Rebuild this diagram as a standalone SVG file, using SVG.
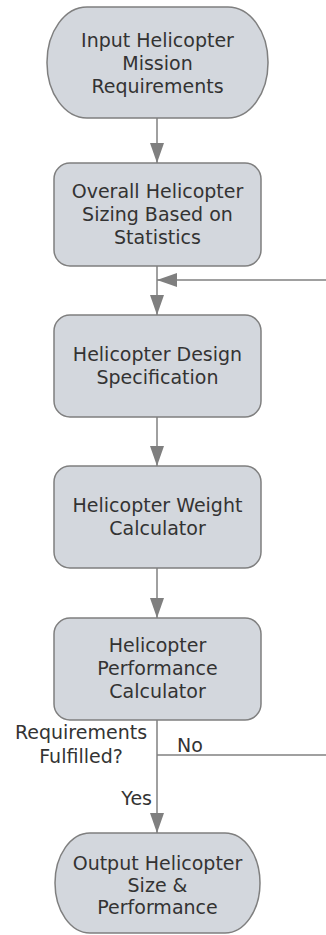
<svg xmlns="http://www.w3.org/2000/svg" width="326" height="935" viewBox="0 0 326 935">
<style>
.n{fill:#d3d7dd;stroke:#7f7f7f;stroke-width:1.5}
.t{font-family:"DejaVu Sans",sans-serif;font-size:19px;fill:#333;text-anchor:middle}
.l{font-family:"DejaVu Sans",sans-serif;font-size:19px;fill:#333}
.c{fill:none;stroke:#808080;stroke-width:1.5}
</style>
<defs>
<marker id="a" markerUnits="userSpaceOnUse" markerWidth="20" markerHeight="14" refX="20" refY="7" orient="auto">
<path d="M0,0 L20,7 L0,14 z" fill="#7f7f7f"/>
</marker>
</defs>
<rect width="326" height="935" fill="#fff"/>
<g id="connectors">
<path class="c" d="M157,118 V163" marker-end="url(#a)"/>
<path class="c" d="M157,266 V315" marker-end="url(#a)"/>
<path class="c" d="M326,280 H157" marker-end="url(#a)"/>
<path class="c" d="M157,417 V466" marker-end="url(#a)"/>
<path class="c" d="M157,568 V618" marker-end="url(#a)"/>
<path class="c" d="M157,720 V833" marker-end="url(#a)"/>
<path class="c" d="M157,755 H326"/>
<text class="l" x="81" y="739" text-anchor="middle">Requirements</text>
<text class="l" x="81" y="763" text-anchor="middle">Fulfilled?</text>
<text class="l" x="177" y="752">No</text>
<text class="l" x="152" y="805" text-anchor="end">Yes</text>
</g>
<g id="n1">
<rect class="n" x="47" y="7" width="221" height="111" rx="40" ry="55"/>
<text class="t" x="157.5" y="47">Input Helicopter</text>
<text class="t" x="157.5" y="70">Mission</text>
<text class="t" x="157.5" y="93">Requirements</text>
</g>
<g id="n2">
<rect class="n" x="54" y="163" width="207" height="103" rx="16" ry="16"/>
<text class="t" x="157.5" y="198">Overall Helicopter</text>
<text class="t" x="157.5" y="221">Sizing Based on</text>
<text class="t" x="157.5" y="244">Statistics</text>
</g>
<g id="n3">
<rect class="n" x="54" y="315" width="207" height="102" rx="16" ry="16"/>
<text class="t" x="157.5" y="361">Helicopter Design</text>
<text class="t" x="157.5" y="384">Specification</text>
</g>
<g id="n4">
<rect class="n" x="54" y="466" width="207" height="102" rx="16" ry="16"/>
<text class="t" x="157.5" y="512">Helicopter Weight</text>
<text class="t" x="157.5" y="535">Calculator</text>
</g>
<g id="n5">
<rect class="n" x="54" y="618" width="207" height="102" rx="16" ry="16"/>
<text class="t" x="157.5" y="652">Helicopter</text>
<text class="t" x="157.5" y="675">Performance</text>
<text class="t" x="157.5" y="698">Calculator</text>
</g>
<g id="n6">
<rect class="n" x="55" y="833" width="205" height="100" rx="35" ry="50"/>
<text class="t" x="157.5" y="870">Output Helicopter</text>
<text class="t" x="157.5" y="892">Size &amp;</text>
<text class="t" x="157.5" y="914">Performance</text>
</g>
</svg>
